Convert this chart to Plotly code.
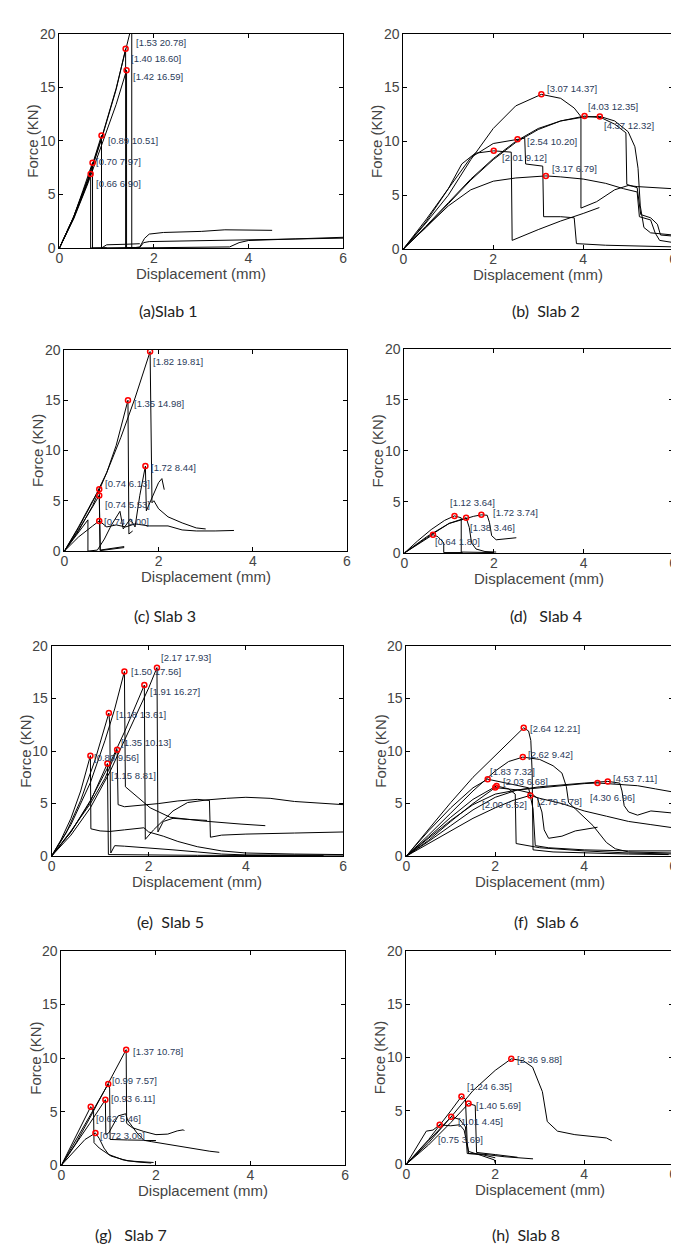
import plotly.graph_objects as go

W, H = 679, 1256

# ---------------- data ----------------
captions = ["(a)Slab 1", "(b)  Slab 2", "(c) Slab 3", "(d)   Slab 4",
            "(e)  Slab 5", "(f)  Slab 6", "(g)   Slab 7", "(h)  Slab 8"]
x_title = "Displacement (mm)"
y_title = "Force (KN)"
x_ticks = [0, 2, 4, 6]
y_ticks = [0, 5, 10, 15, 20]

# Slab 1
slab1_x = [
    [0, 0.3, 0.6, 0.9, 1.2, 1.53, 1.53, 1.7, 1.8, 1.9, 2.2, 3.0, 3.5, 4.5],
    [0, 0.3, 0.6, 0.9, 1.2, 1.40, 1.40, 2.0, 3.0, 3.6, 3.8, 4.0, 5.0, 6.0],
    [0, 0.3, 0.6, 0.9, 1.2, 1.42, 1.42, 1.7, 1.78, 1.9, 3.0, 4.5, 6.0],
    [0, 0.3, 0.6, 0.89, 0.89, 1.0, 1.4, 1.7],
    [0, 0.3, 0.5, 0.70, 0.70, 1.2, 1.6],
    [0, 0.3, 0.5, 0.66, 0.66, 1.0],
]
slab1_y = [
    [0, 2.9, 6.4, 10.4, 14.9, 20.78, 0, 0.1, 0.9, 1.3, 1.45, 1.55, 1.7, 1.65],
    [0, 2.8, 6.2, 10.3, 14.8, 18.60, 0, 0.02, 0.05, 0.1, 0.5, 0.7, 0.85, 1.0],
    [0, 2.7, 6.0, 9.8, 13.4, 16.59, 0, 0.05, 0.5, 0.6, 0.7, 0.8, 0.92],
    [0, 2.9, 6.4, 10.51, 0, 0.3, 0.35, 0.4],
    [0, 2.9, 5.4, 7.97, 0, 0.05, 0.05],
    [0, 2.8, 5.0, 6.90, 0, 0.02],
]
slab1_peak_x = [1.53, 1.40, 1.42, 0.89, 0.70, 0.66]
slab1_peak_y = [20.78, 18.60, 16.59, 10.51, 7.97, 6.90]

# Slab 2
slab2_x = [
    [0, 0.5, 1.0, 1.5, 2.0, 2.5, 3.07, 3.5, 3.8, 3.95, 3.95, 4.3, 4.7, 5.0, 5.2, 5.5, 6.0],
    [0, 0.5, 1.0, 1.5, 2.0, 2.5, 3.0, 3.5, 4.03, 4.4, 4.7, 4.95, 4.97, 5.2, 5.28, 5.5, 5.65, 5.72, 6.0],
    [0, 0.5, 1.0, 1.5, 2.0, 2.5, 3.0, 3.5, 4.0, 4.37, 4.7, 5.0, 5.15, 5.22, 5.27, 5.35, 5.5, 6.0],
    [0, 0.5, 1.0, 1.5, 2.0, 2.54, 2.7, 2.72, 3.0, 3.1, 3.12, 3.5, 3.8, 3.85, 4.5, 5.5, 6.0],
    [0, 0.5, 1.0, 1.3, 1.6, 2.01, 2.4, 2.42, 3.0, 3.5, 4.0, 4.36],
    [0, 0.5, 1.0, 1.5, 2.0, 2.5, 3.17, 3.5, 4.0, 4.5, 4.9, 5.2, 5.25, 5.5, 5.6, 5.7, 6.0],
]
slab2_y = [
    [0, 2.4, 5.0, 8.3, 11.2, 13.3, 14.37, 14.0, 13.1, 12.3, 3.8, 4.4, 5.5, 5.9, 5.8, 5.7, 5.6],
    [0, 2.0, 4.2, 6.4, 8.3, 9.9, 11.1, 11.9, 12.35, 12.2, 11.6, 10.8, 6.0, 5.7, 3.2, 2.9, 2.3, 1.3, 1.2],
    [0, 2.1, 4.3, 6.5, 8.4, 10.0, 11.2, 11.9, 12.25, 12.32, 11.9, 10.9, 9.5, 7.5, 4.0, 2.0, 1.5, 1.3],
    [0, 2.7, 5.6, 8.5, 9.8, 10.2, 10.3, 7.9, 7.8, 7.7, 3.0, 3.0, 2.9, 0.5, 0.35, 0.25, 0.2],
    [0, 2.5, 5.6, 7.9, 8.9, 9.12, 9.0, 0.8, 1.8, 2.6, 3.3, 3.85],
    [0, 2.0, 4.0, 5.5, 6.3, 6.6, 6.79, 6.7, 6.5, 6.1, 5.6, 5.3, 3.0, 2.7, 1.5, 0.8, 0.6],
]
slab2_peak_x = [3.07, 4.03, 4.37, 2.54, 2.01, 3.17]
slab2_peak_y = [14.37, 12.35, 12.32, 10.20, 9.12, 6.79]

# Slab 3
slab3_x = [
    [0, 0.3, 0.6, 0.9, 1.2, 1.5, 1.82, 1.86, 1.9, 2.0, 2.2, 2.5, 2.8, 3.0],
    [0, 0.3, 0.6, 0.9, 1.1, 1.35, 1.37, 1.45],
    [0, 0.25, 0.5, 0.5, 0.7, 0.85, 1.0, 1.18, 1.25, 1.4, 1.5, 1.6, 1.72, 1.74, 1.85, 2.0, 2.07, 2.12],
    [0, 0.3, 0.6, 0.74, 0.76, 0.9, 1.1, 1.27],
    [0, 0.3, 0.6, 0.74, 0.76, 0.9, 1.1, 1.27],
    [0, 0.3, 0.6, 0.74, 0.9, 1.1, 1.3, 1.5, 1.8, 2.2, 2.5, 2.8, 3.2, 3.6],
]
slab3_y = [
    [0, 2.3, 4.9, 7.8, 11.3, 15.2, 19.81, 4.8, 5.0, 4.2, 3.4, 2.8, 2.3, 2.2],
    [0, 2.0, 4.5, 7.8, 10.5, 14.98, 1.7, 2.0],
    [0, 1.6, 3.1, 0.0, 0.1, 1.2, 2.6, 3.95, 2.2, 3.2, 2.4, 5.5, 8.44, 4.0, 5.2, 6.8, 7.2, 6.1],
    [0, 2.4, 5.0, 6.13, 0.1, 0.2, 0.4, 0.45],
    [0, 2.1, 4.4, 5.53, 0.05, 0.15, 0.3, 0.35],
    [0, 1.4, 2.5, 3.0, 2.4, 2.6, 2.4, 2.7, 2.5, 2.5, 2.1, 2.0, 2.0, 2.05],
]
slab3_peak_x = [1.82, 1.35, 1.72, 0.74, 0.74, 0.74]
slab3_peak_y = [19.81, 14.98, 8.44, 6.13, 5.53, 3.00]

# Slab 4
slab4_x = [
    [0, 0.3, 0.6, 0.9, 1.12, 1.27, 1.27, 1.6, 2.0],
    [0, 0.5, 1.0, 1.38, 1.55, 1.72, 1.85, 1.9, 1.95, 2.05, 2.2, 2.5],
    [0, 0.5, 1.0, 1.38, 1.45, 1.5, 1.6, 1.8, 2.05],
    [0, 0.64, 0.75, 0.88, 0.88, 1.3],
]
slab4_y = [
    [0, 1.2, 2.3, 3.2, 3.64, 3.45, 0.1, 0.1, 0.05],
    [0, 1.6, 2.9, 3.4, 3.6, 3.74, 3.7, 3.0, 1.7, 1.3, 1.35, 1.5],
    [0, 1.5, 2.9, 3.46, 2.5, 1.0, 0.4, 0.15, 0.1],
    [0, 1.80, 1.6, 1.0, 0.05, 0.05],
]
slab4_peak_x = [1.12, 1.72, 1.38, 0.64]
slab4_peak_y = [3.64, 3.74, 3.46, 1.80]

# Slab 5
slab5_x = [
    [0, 0.2, 0.4, 0.6, 0.8, 0.81, 1.0, 1.2, 1.5, 1.9, 2.0, 2.3, 2.6, 3.0, 3.5, 4.0, 5.0, 6.0],
    [0, 0.3, 0.6, 0.9, 1.18, 1.2, 1.22, 1.3, 1.5, 2.0, 2.5, 3.0, 3.5, 4.0, 6.0],
    [0, 0.4, 0.8, 1.15, 1.17, 2.0, 3.0, 4.5, 5.6],
    [0, 0.4, 0.8, 1.1, 1.3, 1.5, 1.52, 1.6, 1.76, 2.03, 2.44, 3.1, 3.9, 4.4],
    [0, 0.4, 0.8, 1.1, 1.35, 1.37, 1.5, 1.8, 2.2, 2.6, 3.0, 3.25, 3.27, 3.5, 4.0, 5.0, 6.0],
    [0, 0.4, 0.8, 1.2, 1.5, 1.91, 1.93, 2.1, 2.3, 2.5, 2.8, 3.2, 3.6, 4.0, 4.5, 5.0, 6.0],
    [0, 0.4, 0.8, 1.2, 1.6, 2.0, 2.17, 2.19, 2.3, 2.5, 2.8, 3.2],
]
slab5_y = [
    [0, 1.6, 3.6, 6.2, 9.56, 2.6, 2.4, 2.35, 2.5, 2.7, 2.3, 1.9, 1.4, 0.9, 0.5, 0.3, 0.2, 0.15],
    [0, 2.2, 5.3, 9.2, 13.61, 12.5, 0.3, 1.0, 0.95, 0.8, 0.6, 0.4, 0.2, 0.12, 0.1],
    [0, 2.3, 5.2, 8.81, 0.15, 0.1, 0.08, 0.06, 0.05],
    [0, 3.0, 7.0, 11.0, 14.0, 17.56, 6.6, 6.3, 5.7, 4.6, 3.7, 3.35, 3.05, 2.9],
    [0, 2.4, 5.0, 7.4, 10.13, 4.9, 4.7, 4.8, 5.0, 5.25, 5.4, 5.3, 1.8, 2.0, 2.1, 2.2, 2.3],
    [0, 2.3, 5.3, 8.8, 11.8, 16.27, 1.6, 2.5, 3.4, 4.3, 5.1, 5.35, 5.5, 5.6, 5.5, 5.2, 4.9],
    [0, 2.0, 4.6, 8.0, 12.0, 16.0, 17.93, 2.3, 3.3, 3.6, 3.5, 3.4],
]
slab5_peak_x = [2.17, 1.50, 1.91, 1.18, 1.35, 0.80, 1.15]
slab5_peak_y = [17.93, 17.56, 16.27, 13.61, 10.13, 9.56, 8.81]

# Slab 6
slab6_x = [
    [0, 0.5, 1.0, 1.5, 2.0, 2.4, 2.64, 2.75, 2.8, 2.83, 2.85, 3.3, 4.0, 5.0, 5.9],
    [0, 0.5, 1.0, 1.5, 2.0, 2.3, 2.62, 3.0, 3.3, 3.5, 3.6, 3.65, 3.8, 4.2, 4.5, 4.7, 5.0, 6.0],
    [0, 0.5, 1.0, 1.5, 1.83, 2.1, 2.4, 2.75, 2.8, 2.85, 2.9, 3.2, 4.0, 5.0, 6.0],
    [0, 0.5, 1.0, 1.5, 2.03, 2.3, 2.45, 2.47, 3.0, 4.0, 5.0, 6.0],
    [0, 0.5, 1.0, 1.5, 2.0, 2.5, 2.8, 2.95, 3.05, 3.1, 3.2, 3.5, 3.8, 4.3],
    [0, 0.5, 1.0, 1.5, 2.0, 2.4, 2.79, 3.0, 3.5, 4.0, 4.5, 5.0, 5.5, 6.0],
    [0, 0.5, 1.0, 1.5, 2.0, 2.5, 3.0, 3.5, 4.0, 4.53, 4.8, 4.85, 4.9, 5.0, 5.2, 5.5, 5.8, 6.0],
    [0, 0.5, 1.0, 1.5, 2.0, 2.5, 3.0, 3.5, 4.0, 4.3, 4.8, 5.2, 5.6, 6.0],
]
slab6_y = [
    [0, 2.6, 5.1, 7.5, 9.6, 11.3, 12.21, 11.9, 11.0, 8.0, 0.6, 0.4, 0.3, 0.2, 0.15],
    [0, 2.0, 4.1, 6.2, 8.1, 9.0, 9.42, 9.2, 8.6, 7.9, 6.6, 5.1, 4.5, 2.9, 1.3, 0.7, 0.4, 0.3],
    [0, 2.4, 4.6, 6.5, 7.32, 7.1, 6.8, 6.5, 5.5, 4.5, 1.0, 0.8, 0.6, 0.5, 0.5],
    [0, 1.8, 3.7, 5.4, 6.68, 6.4, 5.9, 1.2, 0.8, 0.5, 0.3, 0.2],
    [0, 1.5, 3.3, 5.0, 6.52, 6.3, 6.0, 5.5, 4.2, 2.5, 1.7, 1.9, 2.4, 2.75],
    [0, 1.2, 2.4, 3.6, 4.6, 5.3, 5.78, 5.5, 5.0, 4.3, 3.8, 3.3, 3.0, 2.7],
    [0, 1.4, 2.9, 4.4, 5.6, 6.3, 6.6, 6.8, 6.95, 7.11, 6.95, 6.2, 4.8, 4.2, 3.9, 4.3, 4.2, 4.1],
    [0, 1.7, 3.4, 4.9, 5.9, 6.3, 6.5, 6.75, 6.9, 6.96, 6.85, 6.7, 6.4, 6.1],
]
slab6_peak_x = [2.64, 2.62, 1.83, 2.03, 4.53, 4.30, 2.00, 2.79]
slab6_peak_y = [12.21, 9.42, 7.32, 6.68, 7.11, 6.96, 6.52, 5.78]

# Slab 7
slab7_x = [
    [0, 0.3, 0.6, 0.9, 1.1, 1.37, 1.38, 1.5, 1.74, 2.0, 2.25, 2.45, 2.58, 2.6],
    [0, 0.3, 0.6, 0.8, 0.99, 1.02, 1.03, 1.4, 1.74, 1.9, 2.44, 3.14, 3.34],
    [0, 0.3, 0.6, 0.93, 0.94, 1.0, 1.2, 1.36, 1.4, 1.6, 1.75, 2.0],
    [0, 0.3, 0.62, 0.68, 0.69, 0.8, 1.05, 1.4, 1.95],
    [0, 0.3, 0.5, 0.72, 0.8, 0.9, 1.0, 1.3, 1.6, 1.9],
]
slab7_y = [
    [0, 2.0, 4.4, 6.9, 8.6, 10.78, 3.9, 3.5, 3.15, 2.85, 2.9, 3.2, 3.3, 3.2],
    [0, 2.3, 4.7, 6.2, 7.57, 7.2, 2.4, 2.35, 2.33, 2.2, 1.78, 1.3, 1.2],
    [0, 1.9, 3.9, 6.11, 2.85, 3.0, 4.6, 4.8, 4.2, 3.0, 2.3, 2.3],
    [0, 2.7, 5.46, 5.0, 2.1, 1.6, 0.85, 0.4, 0.25],
    [0, 1.5, 2.4, 3.0, 2.5, 1.6, 1.0, 0.5, 0.3, 0.2],
]
slab7_peak_x = [1.37, 0.99, 0.93, 0.62, 0.72]
slab7_peak_y = [10.78, 7.57, 6.11, 5.46, 3.00]

# Slab 8
slab8_x = [
    [0, 0.5, 1.0, 1.5, 2.0, 2.36, 2.63, 2.84, 3.06, 3.17, 3.4, 3.79, 4.5, 4.62],
    [0, 0.5, 1.0, 1.24, 1.33, 1.37, 1.4, 1.7, 2.2, 2.85],
    [0, 0.5, 1.0, 1.40, 1.55, 1.58, 2.0, 2.5],
    [0, 0.5, 1.01, 1.2, 1.33, 1.37, 1.7, 2.0],
    [0, 0.25, 0.45, 0.6, 0.75, 1.0, 1.2, 1.3, 1.4, 1.7, 1.98, 2.0],
]
slab8_y = [
    [0, 2.2, 4.4, 6.9, 8.8, 9.88, 9.7, 9.1, 6.8, 4.0, 3.1, 2.77, 2.46, 2.2],
    [0, 2.3, 5.0, 6.35, 6.1, 2.0, 1.0, 0.95, 0.7, 0.5],
    [0, 1.8, 3.9, 5.69, 5.5, 1.1, 0.9, 0.65],
    [0, 2.0, 4.45, 4.2, 3.5, 1.0, 0.9, 0.6],
    [0, 1.8, 3.1, 3.2, 3.69, 3.6, 3.7, 3.2, 1.2, 0.8, 0.4, 0.1],
]
slab8_peak_x = [2.36, 1.24, 1.40, 1.01, 0.75]
slab8_peak_y = [9.88, 6.35, 5.69, 4.45, 3.69]

# ---------------- layout (styles) ----------------
# panel boxes in pixels: left, top, right, bottom
boxes = [(48, 18, 335, 235), (396, 18, 669, 236),
         (53, 338, 339, 542), (397, 337, 669, 544),
         (40, 638, 335, 851), (399, 638, 669, 851),
         (50, 947, 337, 1164), (399, 947, 669, 1163)]
# label offsets (dx right, dy down) in pixels
offsets = [
    [(2, 9), (3, 10), (4, 6), (4, 5), (1, -1), (3, 9)],
    [(4, -6), (1, -10), (2, 9), (7, 2), (6, 7), (4, -7)],
    [(1, 10), (4, 3), (4, 1), (4, -6), (4, 9), (3, 1)],
    [(-7, -13), (10, -2), (2, 10), (0, 7)],
    [(2, -10), (5, 0), (4, 6), (5, 1), (2, -7), (2, 2), (2, 12)],
    [(4, 1), (3, -3), (0, -8), (4, -4), (3, -3), (-10, 15), (-15, 17), (5, 6)],
    [(5, 2), (2, -4), (4, -1), (3, 12), (3, 2)],
    [(4, 1), (4, -10), (5, 2), (5, 5), (-4, 15)],
]
caption_pos = [(158, 298), (540, 298), (155, 607), (540, 607),
               (160, 917), (541, 917), (120, 1234), (520, 1234)]

panels = [
    (slab1_x, slab1_y, slab1_peak_x, slab1_peak_y),
    (slab2_x, slab2_y, slab2_peak_x, slab2_peak_y),
    (slab3_x, slab3_y, slab3_peak_x, slab3_peak_y),
    (slab4_x, slab4_y, slab4_peak_x, slab4_peak_y),
    (slab5_x, slab5_y, slab5_peak_x, slab5_peak_y),
    (slab6_x, slab6_y, slab6_peak_x, slab6_peak_y),
    (slab7_x, slab7_y, slab7_peak_x, slab7_peak_y),
    (slab8_x, slab8_y, slab8_peak_x, slab8_peak_y),
]

FONT = "Liberation Sans, Arial, sans-serif"
TICK_FONT = dict(family=FONT, size=14, color="#444")
TITLE_FONT = dict(family=FONT, size=15, color="#444")
fig = go.Figure()
annotations = []
layout = {}

for i, (cx, cy, px, py) in enumerate(panels):
    n = i + 1
    xa = "x" if n == 1 else f"x{n}"
    ya = "y" if n == 1 else f"y{n}"
    for xs, ys in zip(cx, cy):
        fig.add_trace(go.Scatter(x=xs, y=ys, mode="lines", xaxis=xa, yaxis=ya,
                                 line=dict(color="black", width=1),
                                 showlegend=False, hoverinfo="skip"))
    fig.add_trace(go.Scatter(x=px, y=py, mode="markers", xaxis=xa, yaxis=ya,
                             marker=dict(symbol="circle-open", size=5, color="red",
                                         line=dict(width=1.5, color="red")),
                             showlegend=False, hoverinfo="skip"))
    for (vx, vy), (dx, dy) in zip(zip(px, py), offsets[i]):
        annotations.append(dict(
            x=vx, y=min(vy, 20), xref=xa, yref=ya, text=f"[{vx:.2f} {vy:.2f}]",
            showarrow=False, xanchor="left", yanchor="middle",
            xshift=dx, yshift=-dy,
            font=dict(family=FONT, size=9.5, color="#2b3b5a")))
    l, t, r, b = boxes[i]
    axis_common = dict(showline=True, linecolor="black", linewidth=1, mirror="ticks",
                       ticks="inside", ticklen=4, tickcolor="black", showgrid=False,
                       zeroline=False, tickfont=TICK_FONT)
    layout["xaxis" if n == 1 else f"xaxis{n}"] = dict(
        domain=[l / W, r / W], anchor=ya, range=[0, 6], tickvals=x_ticks,
        ticklabelstandoff=-3, **axis_common)
    layout["yaxis" if n == 1 else f"yaxis{n}"] = dict(
        domain=[1 - b / H, 1 - t / H], anchor=xa, range=[0, 20], tickvals=y_ticks,
        **axis_common)
    # axis titles
    annotations.append(dict(x=(l + r) / 2 / W, y=1 - (b + 26) / H, xref="paper", yref="paper",
                            text=x_title, showarrow=False, xanchor="center", yanchor="middle",
                            font=TITLE_FONT))
    annotations.append(dict(x=(l - 27) / W, y=1 - (t + b) / 2 / H, xref="paper", yref="paper",
                            text=y_title, textangle=-90, showarrow=False,
                            xanchor="center", yanchor="middle", font=TITLE_FONT))

for text, (cxp, cyp) in zip(captions, caption_pos):
    annotations.append(dict(x=cxp / W, y=1 - cyp / H, xref="paper", yref="paper",
                            text=text, showarrow=False, xanchor="center", yanchor="middle",
                            font=dict(family="Lato, Open Sans, sans-serif", size=16, color="#222")))

fig.update_layout(width=W, height=H, margin=dict(l=0, r=0, t=0, b=0),
                  paper_bgcolor="white", plot_bgcolor="white",
                  annotations=annotations, **layout)
fig.write_html("out.html")
